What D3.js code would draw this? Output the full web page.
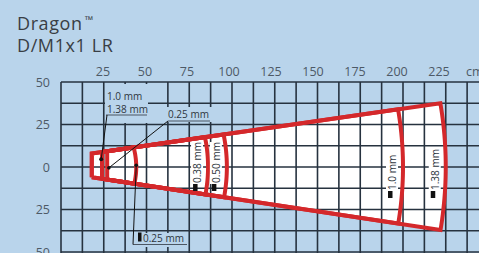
<!DOCTYPE html>
<html>
<head>
<meta charset="utf-8">
<script src="https://cdn.jsdelivr.net/npm/d3@7"></script>
<style>
  body { margin: 0; background: #b9d4eb; }
  svg { display: block; font-family: "Open Sans", sans-serif; }
</style>
</head>
<body>
<div id="chart"></div>
<script>
// reading distances, cm
var xTicks = [25, 50, 75, 100, 125, 150, 175, 200, 225];
var yTicks = [50, 25, 0, -25, -50];
var unitLabel = "cm";

// reading zones (drawn largest first)
var zoneNames = ["1.38 mm", "1.0 mm", "0.50 mm", "0.38 mm", "0.25 mm"];
var zoneStart = [18, 18, 24, 24, 27];
var zoneEnd   = [225, 200, 97, 86, 44];

// edges of the reading cone: [distance, half width top, half width bottom]
var coneNear = [18, 8, -6];
var coneFar  = [225, 38, -37.5];

var width = 479, height = 253;
var bg = "#b9d4eb", red = "#d4282b", gridColor = "#26323f";

var svg = d3.select("#chart").append("svg")
    .attr("width", width)
    .attr("height", height);

svg.append("rect").attr("width", width).attr("height", height).attr("fill", bg);

var xScale = d3.scaleLinear().domain([0, 250]).range([61, 488.5]);
var yScale = d3.scaleLinear().domain([-50, 50]).range([252, 82]);
// the printed tick numbers sit on a slightly tighter spacing than the grid
var labelScale = d3.scaleLinear().domain([25, 225]).range([103, 439]);

function topAt(d) {
    return coneNear[1] + (coneFar[1] - coneNear[1]) * (d - coneNear[0]) / (coneFar[0] - coneNear[0]);
}
function botAt(d) {
    return coneNear[2] + (coneFar[2] - coneNear[2]) * (d - coneNear[0]) / (coneFar[0] - coneNear[0]);
}
// where the edge line meets the end arc (arc centred on the scanner)
function meet(r, edge) {
    var d = r;
    for (var k = 0; k < 6; k++) {
        d = Math.sqrt(r * r - edge(d) * edge(d));
    }
    return d;
}

var line = d3.line().x(function(p) { return xScale(p[0]); }).y(function(p) { return yScale(p[1]); });

function zonePoints(i) {
    var d0 = zoneStart[i], r = zoneEnd[i];
    var pts = [[d0, botAt(d0)], [d0, topAt(d0)]];
    var dt = meet(r, topAt), db = meet(r, botAt);
    var yt = topAt(dt), yb = botAt(db);
    for (var s = 0; s <= 24; s++) {
        var yy = yt + (yb - yt) * s / 24;
        pts.push([Math.sqrt(r * r - yy * yy), yy]);
    }
    pts.push([d0, botAt(d0)]);
    return pts;
}

var zoneIdx = d3.range(zoneNames.length);

// white fill first, then grid, then red outlines
svg.append("g").selectAll("path")
    .data(zoneIdx)
    .enter().append("path")
    .attr("d", function(i) { return line(zonePoints(i)); })
    .attr("fill", "#fff");

var grid = svg.append("g")
    .attr("stroke", gridColor)
    .attr("stroke-width", 1.6);

grid.selectAll("line.v")
    .data(d3.range(0, 251, 12.5))
    .enter().append("line")
    .attr("class", "v")
    .attr("x1", function(d) { return xScale(d); })
    .attr("x2", function(d) { return xScale(d); })
    .attr("y1", yScale(50))
    .attr("y2", height + 5);

grid.selectAll("line.h")
    .data(d3.range(-50, 51, 12.5))
    .enter().append("line")
    .attr("class", "h")
    .attr("x1", xScale(0))
    .attr("x2", width + 5)
    .attr("y1", function(d) { return yScale(d); })
    .attr("y2", function(d) { return yScale(d); });

svg.append("g").selectAll("path")
    .data(zoneIdx)
    .enter().append("path")
    .attr("d", function(i) { return line(zonePoints(i)); })
    .attr("fill", "none")
    .attr("stroke", red)
    .attr("stroke-width", 4)
    .attr("stroke-linejoin", "miter");

// axis labels
var tickColor = "#4d5966";
svg.append("g").selectAll("text")
    .data(xTicks)
    .enter().append("text")
    .attr("x", function(d) { return labelScale(d); })
    .attr("y", 76)
    .attr("text-anchor", "middle")
    .attr("font-size", 12.5)
    .attr("fill", tickColor)
    .text(function(d) { return d; });

svg.append("text")
    .attr("x", 466)
    .attr("y", 76)
    .attr("font-size", 12.5)
    .attr("fill", tickColor)
    .text(unitLabel);

svg.append("g").selectAll("text")
    .data(yTicks)
    .enter().append("text")
    .attr("x", 50)
    .attr("y", function(d) { return yScale(d) + 4.5; })
    .attr("text-anchor", "end")
    .attr("font-size", 12.5)
    .attr("fill", tickColor)
    .text(function(d) { return Math.abs(d); });

// title
var title = svg.append("text")
    .attr("x", 17)
    .attr("font-size", 18)
    .attr("letter-spacing", 0.6)
    .attr("fill", "#393e45");
title.append("tspan").attr("x", 17).attr("y", 30).text("Dragon");
title.append("tspan").attr("dx", 2).attr("dy", -6).attr("font-size", 11).text("™");
svg.append("text")
    .attr("x", 17).attr("y", 52)
    .attr("font-size", 18)
    .attr("letter-spacing", 0.6)
    .attr("fill", "#393e45")
    .text("D/M1x1 LR");

// callouts
var labelColor = "#2e3640";
var call = svg.append("g").attr("font-size", 10).attr("fill", labelColor);

// 1.0 / 1.38 near field
call.append("rect").attr("x", 105).attr("y", 84).attr("width", 43).attr("height", 39).attr("fill", bg);
call.append("text").attr("x", 107).attr("y", 100).text(zoneNames[1]);
call.append("text").attr("x", 107).attr("y", 113).text(zoneNames[0]);
call.append("line").attr("x1", 106).attr("x2", 147).attr("y1", 115).attr("y2", 115)
    .attr("stroke", labelColor).attr("stroke-width", 0.8);
call.append("line").attr("x1", 107).attr("y1", 115)
    .attr("x2", xScale(23.5)).attr("y2", yScale(4.5))
    .attr("stroke", "#111").attr("stroke-width", 1);
call.append("circle").attr("cx", xScale(23.5)).attr("cy", yScale(4.5)).attr("r", 2).attr("fill", "#111");

// 0.25 near limit
call.append("rect").attr("x", 166).attr("y", 107).attr("width", 46).attr("height", 15).attr("fill", bg);
call.append("text").attr("x", 168).attr("y", 118).text(zoneNames[4]);
call.append("line").attr("x1", 168).attr("x2", 210).attr("y1", 121).attr("y2", 121)
    .attr("stroke", labelColor).attr("stroke-width", 0.8);
call.append("line").attr("x1", 168).attr("y1", 121)
    .attr("x2", xScale(28)).attr("y2", yScale(-0.5))
    .attr("stroke", "#111").attr("stroke-width", 1);
call.append("circle").attr("cx", xScale(28)).attr("cy", yScale(-0.5)).attr("r", 1.8).attr("fill", "#111");

// 0.25 far limit
call.append("rect").attr("x", 133).attr("y", 233).attr("width", 55).attr("height", 14).attr("fill", bg);
call.append("rect").attr("x", 138).attr("y", 232.5).attr("width", 3.5).attr("height", 9).attr("fill", "#111");
call.append("text").attr("x", 143).attr("y", 242).text(zoneNames[4]);
call.append("line").attr("x1", 133).attr("x2", 187).attr("y1", 244.5).attr("y2", 244.5)
    .attr("stroke", labelColor).attr("stroke-width", 0.8);
call.append("line").attr("x1", 133).attr("y1", 244.5)
    .attr("x2", xScale(44)).attr("y2", yScale(1))
    .attr("stroke", "#111").attr("stroke-width", 1);
call.append("circle").attr("cx", xScale(44)).attr("cy", yScale(1)).attr("r", 1.8).attr("fill", "#111");

// far-limit labels, rotated, just inside each end arc
var farIdx = [3, 2, 1, 0];
var farBase = [183, 183, 190, 190];
var rot = call.selectAll("g.far")
    .data(farIdx)
    .enter().append("g")
    .attr("class", "far")
    .attr("transform", function(i, k) {
        return "translate(" + (xScale(zoneEnd[i]) - 7) + "," + farBase[k] + ") rotate(-90)";
    });
rot.append("rect").attr("x", -1).attr("y", -10).attr("width", 42).attr("height", 12).attr("fill", "#fff");
rot.append("rect").attr("x", -8).attr("y", -8).attr("width", 7).attr("height", 4.5).attr("fill", "#111");
rot.append("text").attr("x", 0).attr("y", 0).text(function(i) { return zoneNames[i]; });
</script>
</body>
</html>
